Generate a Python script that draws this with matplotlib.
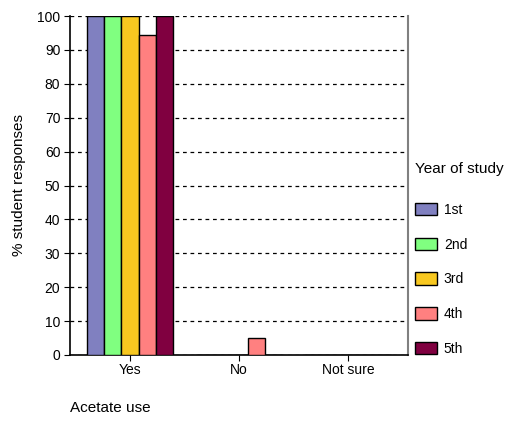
import matplotlib.pyplot as plt
import numpy as np

plt.rcParams['font.family'] = ['Liberation Sans', 'DejaVu Sans']

categories = ['Yes', 'No', 'Not sure']
years = ['1st', '2nd', '3rd', '4th', '5th']
responses = {
    '1st': [100, 0, 0],
    '2nd': [100, 0, 0],
    '3rd': [100, 0, 0],
    '4th': [94.5, 5, 0],
    '5th': [100, 0, 0],
}
colors = ['#8080c0', '#80ff80', '#f8c820', '#ff8080', '#800040']
yticks = list(range(0, 101, 10))

fig = plt.figure(figsize=(5.08, 4.22), dpi=100)
ax = fig.add_axes([70 / 508, 67 / 422, 338 / 508, 339 / 422])

x = np.arange(len(categories))
w = 0.158
for i, yr in enumerate(years):
    ax.bar(x + (i - 2) * w, responses[yr], width=w, color=colors[i],
           edgecolor='black', linewidth=1, label=yr, zorder=3)

ax.set_xlim(-0.55, 2.55)
ax.set_ylim(0, 100)
ax.set_yticks(yticks)
ax.set_xticks(x)
ax.set_xticklabels(categories, fontsize=10)
ax.tick_params(axis='y', labelsize=10, length=4, direction='out', pad=3)
ax.tick_params(axis='x', length=4, direction='out', pad=2)
ax.yaxis.grid(True, linestyle=(0, (3, 3)), color='black', linewidth=0.9, zorder=0)
ax.spines['top'].set_visible(False)
ax.spines['right'].set_color('#808080')
ax.spines['right'].set_linewidth(1.5)
ax.spines['left'].set_linewidth(1.2)
ax.spines['bottom'].set_linewidth(1.2)

ax.set_ylabel('% student responses', fontsize=11, labelpad=8)
fig.text(70 / 508, 1 - 408 / 422, 'Acetate use', fontsize=11, ha='left', va='center')

leg = ax.legend(title='Year of study', loc='upper left', bbox_to_anchor=(0.995, 0.593),
                frameon=False, fontsize=10, title_fontsize=11, labelspacing=1.5,
                handlelength=1.6, handleheight=1.0, handletextpad=0.5,
                borderpad=0.3, borderaxespad=0.3)
leg._legend_box.align = 'left'
leg._legend_box.sep = 19

fig.savefig('out.png', dpi=100)
